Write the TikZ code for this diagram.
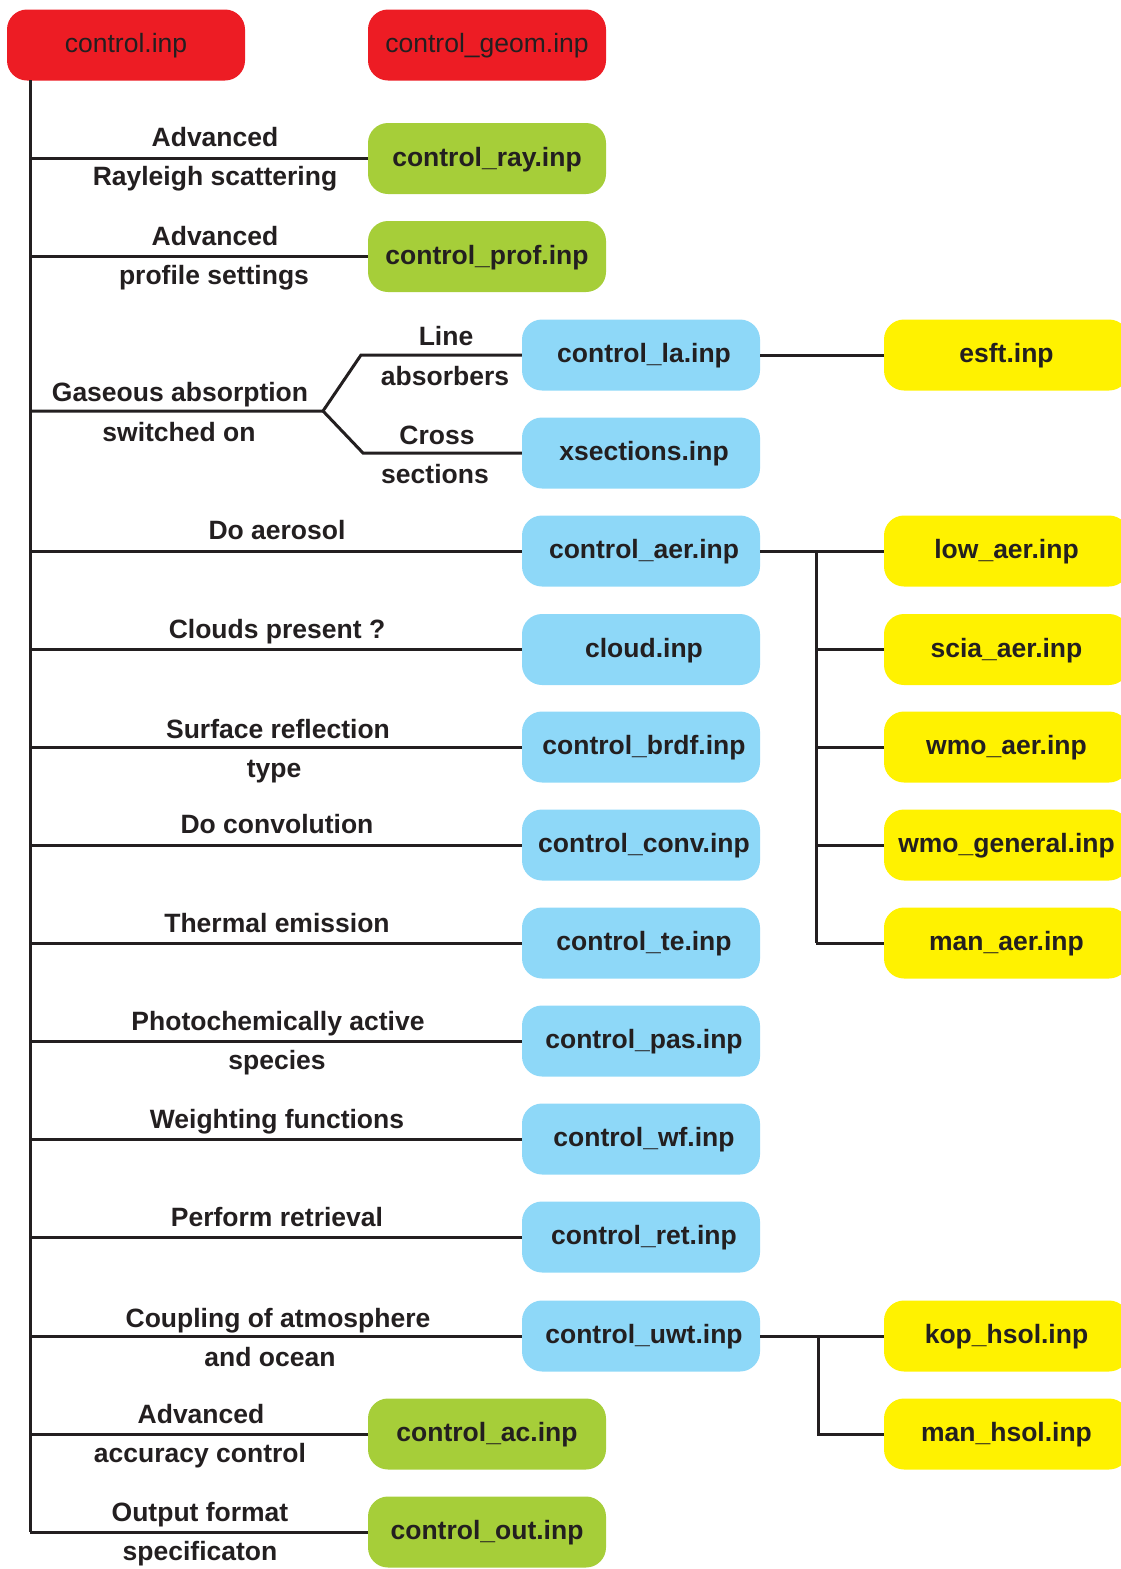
\documentclass[tikz,border=0pt]{standalone}
\usepackage{fontspec}
\setmainfont{Liberation Sans}
\definecolor{ink}{HTML}{231F20}
\definecolor{cred}{HTML}{ED1C24}
\definecolor{cgreen}{HTML}{A6CE39}
\definecolor{cblue}{HTML}{8ED8F8}
\definecolor{cyellow}{HTML}{FFF200}
\tikzset{
  box/.style={rectangle, rounded corners=20pt, minimum width=238pt, minimum height=71pt, inner sep=0pt, text height=20pt, text depth=5pt, text=ink, font=\fontsize{26.5}{30}\selectfont\bfseries},
  redbox/.style={box, fill=cred, font=\fontsize{26.5}{30}\selectfont},
  greenbox/.style={box, fill=cgreen},
  bluebox/.style={box, fill=cblue, execute at begin node={\hspace*{6pt}}},
  yellowbox/.style={box, fill=cyellow, minimum width=245pt},
  lab/.style={inner sep=0pt, anchor=base, text=ink, font=\fontsize{26.5}{30}\selectfont\bfseries},
  conn/.style={draw=ink, line width=3pt},
}
\begin{document}
\begin{tikzpicture}[x=1pt,y=-1pt]
\useasboundingbox (0,0) rectangle (1121,1569);
\clip (0,0) rectangle (1121,1569);
% top red boxes
\node[redbox] (ctrl) at (126,45) {control.inp};
\node[redbox] (geom) at (487,45) {control\_geom.inp};
% green boxes
\node[greenbox] (ray) at (487,158.5) {control\_ray.inp};
\node[greenbox] (prof) at (487,256.5) {control\_prof.inp};
\node[greenbox] (ac) at (487,1434) {control\_ac.inp};
\node[greenbox] (out) at (487,1532) {control\_out.inp};
% blue boxes
\node[bluebox] (la) at (641,355) {control\_la.inp};
\node[bluebox] (xs) at (641,453) {xsections.inp};
\node[bluebox] (aer) at (641,551) {control\_aer.inp};
\node[bluebox] (cloud) at (641,649.5) {cloud.inp};
\node[bluebox] (brdf) at (641,747) {control\_brdf.inp};
\node[bluebox] (conv) at (641,845) {control\_conv.inp};
\node[bluebox] (te) at (641,943) {control\_te.inp};
\node[bluebox] (pas) at (641,1041) {control\_pas.inp};
\node[bluebox] (wf) at (641,1139) {control\_wf.inp};
\node[bluebox] (ret) at (641,1237) {control\_ret.inp};
\node[bluebox] (uwt) at (641,1336) {control\_uwt.inp};
% yellow boxes
\node[yellowbox] (esft) at (1006.5,355) {esft.inp};
\node[yellowbox] (low) at (1006.5,551) {low\_aer.inp};
\node[yellowbox] (scia) at (1006.5,649.5) {scia\_aer.inp};
\node[yellowbox] (wmoa) at (1006.5,747) {wmo\_aer.inp};
\node[yellowbox] (wmog) at (1006.5,845) {wmo\_general.inp};
\node[yellowbox] (mana) at (1006.5,943) {man\_aer.inp};
\node[yellowbox] (kop) at (1006.5,1336) {kop\_hsol.inp};
\node[yellowbox] (manh) at (1006.5,1434) {man\_hsol.inp};
% trunk coordinates
\coordinate (t0) at (30,80);
\coordinate (tray) at (30,158.5);
\coordinate (tprof) at (30,256.5);
\coordinate (tgas) at (30,411);
\coordinate (tfork) at (323,411);
\coordinate (fla) at (361,355);
\coordinate (fxs) at (363,453);
\coordinate (taer) at (30,551);
\coordinate (tcloud) at (30,649.5);
\coordinate (tbrdf) at (30,747);
\coordinate (tconv) at (30,845);
\coordinate (tte) at (30,943);
\coordinate (tpas) at (30,1041);
\coordinate (twf) at (30,1139);
\coordinate (tret) at (30,1237);
\coordinate (tuwt) at (30,1336);
\coordinate (tac) at (30,1434);
\coordinate (tout) at (30,1532);
% aer branch
\coordinate (a0) at (816,551);
\coordinate (a1) at (816,649.5);
\coordinate (a2) at (816,747);
\coordinate (a3) at (816,845);
\coordinate (a4) at (816,943);
% uwt branch
\coordinate (u0) at (818,1336);
\coordinate (u1) at (818,1434);
% connectors
\draw[conn] (t0) -- (tout);
\draw[conn] (tray) -- (ray.west);
\draw[conn] (tprof) -- (prof.west);
\draw[conn, line join=miter] (tgas) -- (tfork) -- (fla) -- (la.west);
\draw[conn, line join=miter] (tfork) -- (fxs) -- (xs.west);
\draw[conn] (taer) -- (aer.west);
\draw[conn] (tcloud) -- (cloud.west);
\draw[conn] (tbrdf) -- (brdf.west);
\draw[conn] (tconv) -- (conv.west);
\draw[conn] (tte) -- (te.west);
\draw[conn] (tpas) -- (pas.west);
\draw[conn] (twf) -- (wf.west);
\draw[conn] (tret) -- (ret.west);
\draw[conn] (tuwt) -- (uwt.west);
\draw[conn] (tac) -- (ac.west);
\draw[conn] (tout) -- (out.west);
\draw[conn] (la.east) -- (esft.west);
\draw[conn] (aer.east) -- (low.west);
\draw[conn] (a0) -- (a4);
\draw[conn] (a1) -- (scia.west);
\draw[conn] (a2) -- (wmoa.west);
\draw[conn] (a3) -- (wmog.west);
\draw[conn] (a4) -- (mana.west);
\draw[conn] (uwt.east) -- (kop.west);
\draw[conn, line join=miter] (u0) -- (u1) -- (manh.west);
% labels (positions are baselines)
\node[lab] (l1a) at (215,146) {Advanced};
\node[lab] (l1b) at (215,185) {Rayleigh scattering};
\node[lab] (l2a) at (215,245) {Advanced};
\node[lab] (l2b) at (214,284) {profile settings};
\node[lab] (l3a) at (446,345) {Line};
\node[lab] (l3b) at (445,385) {absorbers};
\node[lab] (l4a) at (180,401) {Gaseous absorption};
\node[lab] (l4b) at (179,441) {switched on};
\node[lab] (l5a) at (437,444) {Cross};
\node[lab] (l5b) at (435,483) {sections};
\node[lab] (l6) at (277,539) {Do aerosol};
\node[lab] (l7) at (277,638) {Clouds present ?};
\node[lab] (l8a) at (278,738) {Surface reflection};
\node[lab] (l8b) at (274,777) {type};
\node[lab] (l9) at (277,833) {Do convolution};
\node[lab] (l10) at (277,932) {Thermal emission};
\node[lab] (l11a) at (278,1030) {Photochemically active};
\node[lab] (l11b) at (277,1069) {species};
\node[lab] (l12) at (277,1128) {Weighting functions};
\node[lab] (l13) at (277,1226) {Perform retrieval};
\node[lab] (l14a) at (278,1327) {Coupling of atmosphere};
\node[lab] (l14b) at (270,1366) {and ocean};
\node[lab] (l15a) at (201,1423) {Advanced};
\node[lab] (l15b) at (200,1462) {accuracy control};
\node[lab] (l16a) at (200,1521) {Output format};
\node[lab] (l16b) at (200,1560) {specificaton};
\end{tikzpicture}
\end{document}
